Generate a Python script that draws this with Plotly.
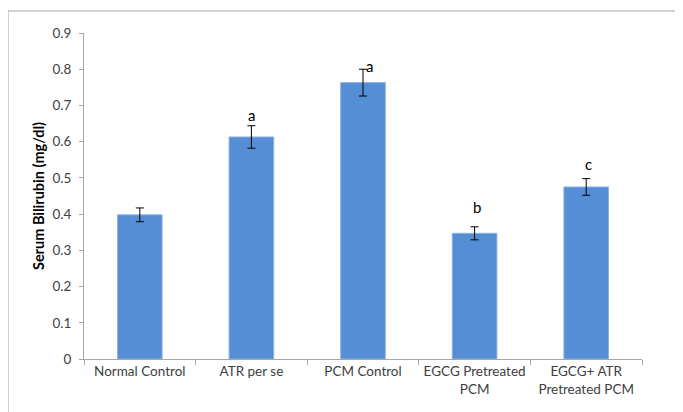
import plotly.graph_objects as go

categories = ["Normal Control", "ATR per se", "PCM Control", "EGCG Pretreated<br>PCM", "EGCG+ ATR<br>Pretreated PCM"]
values = [0.398, 0.613, 0.763, 0.347, 0.475]
errors = [0.019, 0.031, 0.037, 0.018, 0.023]
letters = ["", "a", "a", "b", "c"]
letter_xshift = [0, 0, 6, 2, 2]
letter_yshift = [0, 11, 3, 20, 15]

FONT = "Lato, Open Sans, sans-serif"

fig = go.Figure()
fig.add_trace(go.Bar(
    x=categories, y=values,
    marker=dict(color="#558ED5", line=dict(color="#8DB3E2", width=1)),
    error_y=dict(type="data", array=errors, visible=True, color="#000000", thickness=1, width=4),
    width=0.4,
))

for c, v, e, t, xs, ys in zip(categories, values, errors, letters, letter_xshift, letter_yshift):
    if t:
        fig.add_annotation(x=c, y=v + e, text=t, showarrow=False, xshift=xs, yshift=ys,
                           yanchor="middle", font=dict(family=FONT, size=15, color="#000000"))

# page has an 8px body margin; figure occupies 8..683 x 8..412
W, H = 675, 404
L, R, T, B = 76, 41, 25, 53
pw, ph = W - L - R, H - T - B
fig.add_shape(type="rect", xref="paper", yref="paper",
              x0=(0 - L) / pw, x1=(W + 10 - L) / pw,
              y0=(H - B - (H + 10)) / ph, y1=(H - B - 3) / ph,
              line=dict(color="#A6A6A6", width=1), fillcolor="rgba(0,0,0,0)", layer="below")

fig.update_layout(
    width=W, height=H,
    margin=dict(l=L, r=R, t=T, b=B),
    paper_bgcolor="white", plot_bgcolor="white",
    showlegend=False,
    font=dict(family=FONT, size=13, color="#404040"),
    xaxis=dict(
        showline=True, linecolor="#A6A6A6", linewidth=1,
        ticks="outside", tickson="boundaries", ticklen=5, tickcolor="#A6A6A6",
        showgrid=False, automargin=False,
        tickfont=dict(family=FONT, size=13.5, color="#404040"),
    ),
    yaxis=dict(
        range=[0, 0.9],
        showline=True, linecolor="#A6A6A6", linewidth=1,
        ticks="outside", ticklen=4, tickcolor="#A6A6A6",
        ticklabelstandoff=5,
        showgrid=False, zeroline=False, automargin=False,
        tickfont=dict(family=FONT, size=13.5, color="#404040"),
        title=dict(text="<b>Serum Bilirubin (mg/dl)</b>", font=dict(family=FONT, size=14.5, color="#000000"), standoff=4),
    ),
)
fig.update_yaxes(tickvals=[0, 0.1, 0.2, 0.3, 0.4, 0.5, 0.6, 0.7, 0.8, 0.9],
                 ticktext=["0", "0.1", "0.2", "0.3", "0.4", "0.5", "0.6", "0.7", "0.8", "0.9"])

fig.write_html("out.html")
